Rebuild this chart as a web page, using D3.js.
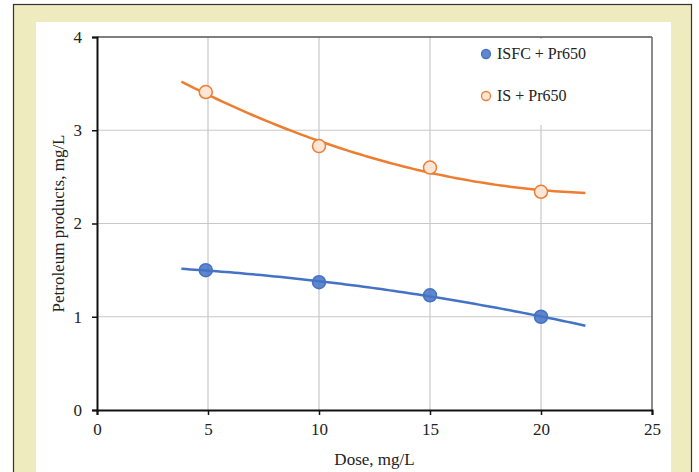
<!DOCTYPE html>
<html>
<head>
<meta charset="utf-8">
<script src="https://cdn.jsdelivr.net/npm/d3@7"></script>
<style>
  html, body { margin: 0; padding: 0; background: #fff; }
  svg { display: block; }
</style>
</head>
<body>
<div id="fig"></div>
<script>
let width = 699;
let height = 472;

// data
let doses = [4.9, 10, 15, 20];
let isfcValues = [1.50, 1.37, 1.23, 1.00];
let isValues = [3.41, 2.83, 2.60, 2.34];
let seriesNames = ['ISFC + Pr650', 'IS + Pr650'];
let xTicks = [0, 5, 10, 15, 20, 25];
let yTicks = [0, 1, 2, 3, 4];
let trendRange = [3.8, 22];

let margin = {top: 37, right: 47, bottom: 62, left: 97};
let plotW = width - margin.left - margin.right;
let plotH = height - margin.top - margin.bottom;

let svg = d3.select('#fig').append('svg')
    .attr('width', width)
    .attr('height', height);

// outer frame and panel
svg.append('rect').attr('x', 0).attr('y', 0).attr('width', width).attr('height', height).attr('fill', '#fff');
svg.append('rect')
    .attr('x', 13.5).attr('y', 4.5).attr('width', 678).attr('height', 480)
    .attr('fill', '#eeebbf').attr('stroke', '#333').attr('stroke-width', 1.2);
svg.append('rect')
    .attr('x', 36).attr('y', 22).attr('width', 635).attr('height', 470)
    .attr('fill', '#fff');

let g = svg.append('g').attr('transform', `translate(${margin.left},${margin.top})`);

let x = d3.scaleLinear().domain([0, 25]).range([0, plotW]);
let y = d3.scaleLinear().domain([0, 4]).range([plotH, 0]);

// grid
g.append('g').selectAll('line')
    .data(xTicks.slice(1, -1))
    .join('line')
    .attr('x1', d => x(d)).attr('x2', d => x(d))
    .attr('y1', 0).attr('y2', plotH)
    .attr('stroke', '#c8c8c8').attr('stroke-width', 1.2);
g.append('g').selectAll('line')
    .data(yTicks.slice(1, -1))
    .join('line')
    .attr('x1', 0).attr('x2', plotW)
    .attr('y1', d => y(d)).attr('y2', d => y(d))
    .attr('stroke', '#c8c8c8').attr('stroke-width', 1.2);

// top and right frame
g.append('line').attr('x1', 0).attr('x2', plotW).attr('y1', 0).attr('y2', 0)
    .attr('stroke', '#555').attr('stroke-width', 1.5);
g.append('line').attr('x1', plotW).attr('x2', plotW).attr('y1', 0).attr('y2', plotH)
    .attr('stroke', '#666').attr('stroke-width', 1.5);

// legend box covers grid
g.append('rect')
    .attr('x', x(17.2)).attr('y', 2).attr('width', 140).attr('height', 86)
    .attr('fill', '#fff');

// axes
let xAxis = g.append('g')
    .attr('transform', `translate(0,${plotH})`)
    .call(d3.axisBottom(x).tickValues(xTicks).tickFormat(d3.format('d')).tickSize(5).tickPadding(8));
let yAxis = g.append('g')
    .call(d3.axisLeft(y).tickValues(yTicks).tickFormat(d3.format('d')).tickSize(5).tickPadding(8));

[xAxis, yAxis].forEach(ax => {
    ax.select('.domain').attr('stroke', '#111').attr('stroke-width', 2);
    ax.selectAll('.tick line').attr('stroke', '#111').attr('stroke-width', 1.5);
    ax.selectAll('.tick text')
        .attr('font-family', '"Liberation Serif", "Times New Roman", serif')
        .attr('font-size', 17)
        .attr('fill', '#222');
});
yAxis.selectAll('.tick text').attr('x', -15);

// least squares quadratic fit (like a spreadsheet polynomial trendline)
function polyFit(xs, ys) {
    let n = xs.length;
    let S = [0, 0, 0, 0, 0], T = [0, 0, 0];
    for (let i = 0; i < n; i++) {
        for (let k = 0; k < 5; k++) S[k] += Math.pow(xs[i], k);
        for (let k = 0; k < 3; k++) T[k] += ys[i] * Math.pow(xs[i], k);
    }
    let A = [[S[0], S[1], S[2], T[0]], [S[1], S[2], S[3], T[1]], [S[2], S[3], S[4], T[2]]];
    for (let c = 0; c < 3; c++) {
        for (let r = c + 1; r < 3; r++) {
            let f = A[r][c] / A[c][c];
            for (let k = c; k < 4; k++) A[r][k] -= f * A[c][k];
        }
    }
    let coef = [0, 0, 0];
    for (let r = 2; r >= 0; r--) {
        let s = A[r][3];
        for (let k = r + 1; k < 3; k++) s -= A[r][k] * coef[k];
        coef[r] = s / A[r][r];
    }
    return v => coef[0] + coef[1] * v + coef[2] * v * v;
}

let series = [
    {name: seriesNames[0], values: isfcValues, color: '#4472c4', fill: '#4472c4', fillOpacity: 0.85},
    {name: seriesNames[1], values: isValues, color: '#ed7d31', fill: '#fbe6d8', fillOpacity: 1}
];

let line = d3.line().x(d => x(d[0])).y(d => y(d[1]));

series.forEach(s => {
    let f = polyFit(doses, s.values);
    let pts = d3.range(trendRange[0], trendRange[1] + 0.001, 0.2).map(v => [v, f(v)]);
    g.append('path')
        .datum(pts)
        .attr('d', line)
        .attr('fill', 'none')
        .attr('stroke', s.color)
        .attr('stroke-width', 2.5);
    g.append('g').selectAll('circle')
        .data(doses.map((d, i) => [d, s.values[i]]))
        .join('circle')
        .attr('cx', d => x(d[0]))
        .attr('cy', d => y(d[1]))
        .attr('r', 6.5)
        .attr('fill', s.fill)
        .attr('fill-opacity', s.fillOpacity)
        .attr('stroke', s.color)
        .attr('stroke-width', 1.5);
});

// legend
let legend = g.append('g').attr('transform', `translate(${486 - margin.left},${54 - margin.top})`);
series.forEach((s, i) => {
    let row = legend.append('g').attr('transform', `translate(0,${i * 42})`);
    row.append('circle')
        .attr('r', 4.5)
        .attr('fill', s.fill)
        .attr('fill-opacity', s.fillOpacity)
        .attr('stroke', s.color)
        .attr('stroke-width', 1.3);
    row.append('text')
        .attr('x', 11)
        .attr('y', 5)
        .attr('font-family', '"Liberation Serif", "Times New Roman", serif')
        .attr('font-size', 16)
        .attr('fill', '#222')
        .text(s.name);
});

// axis titles
svg.append('text')
    .attr('x', margin.left + plotW / 2)
    .attr('y', 465)
    .attr('text-anchor', 'middle')
    .attr('font-family', '"Liberation Serif", "Times New Roman", serif')
    .attr('font-size', 17)
    .attr('fill', '#222')
    .text('Dose, mg/L');
svg.append('text')
    .attr('transform', `translate(64,${margin.top + plotH / 2}) rotate(-90)`)
    .attr('text-anchor', 'middle')
    .attr('font-family', '"Liberation Serif", "Times New Roman", serif')
    .attr('font-size', 17)
    .attr('fill', '#222')
    .text('Petroleum products, mg/L');
</script>
</body>
</html>
